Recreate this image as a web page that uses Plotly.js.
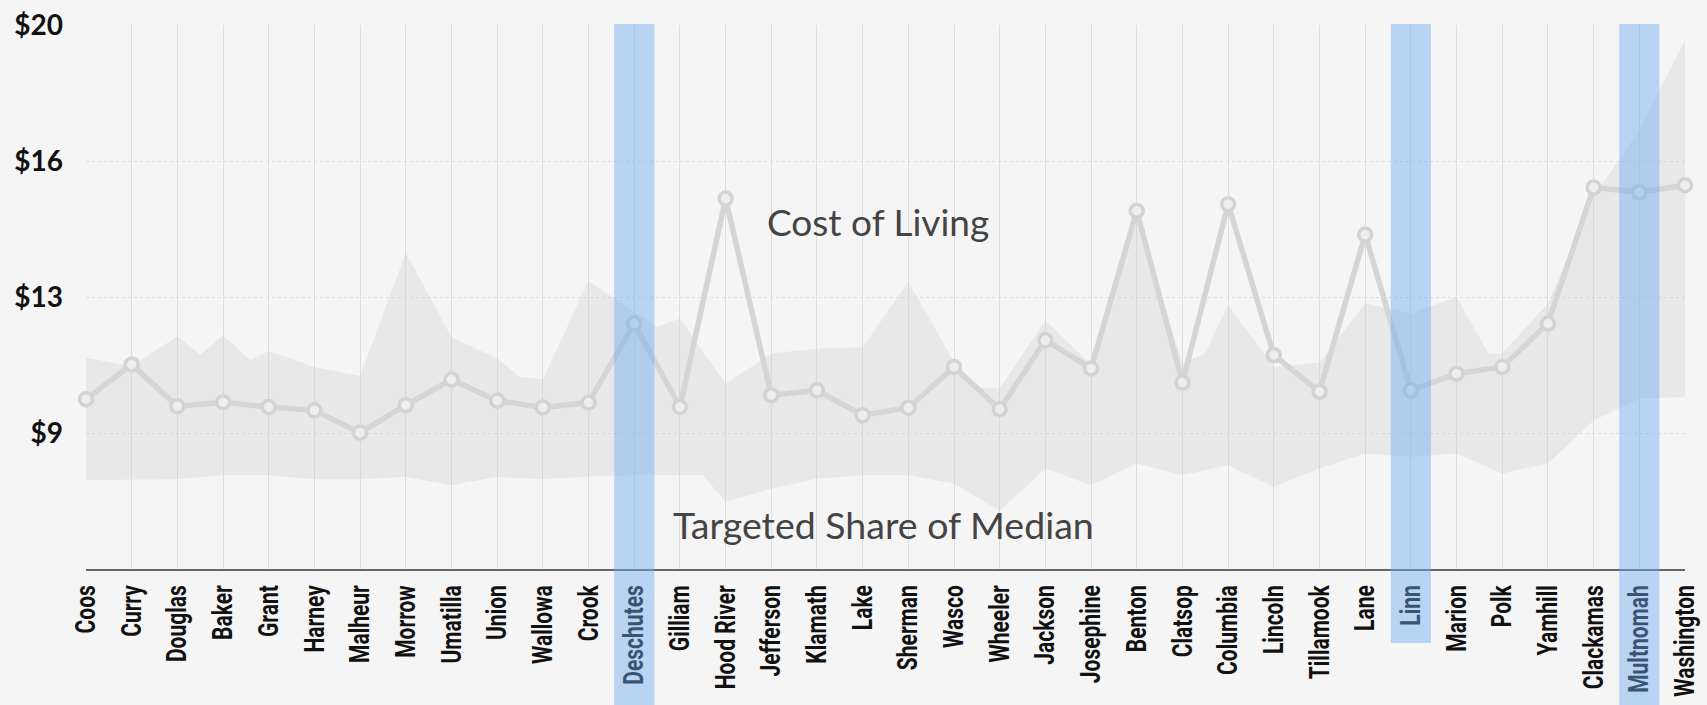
<!DOCTYPE html>
<html>
<head>
<meta charset="utf-8">
<script src="https://cdn.plot.ly/plotly-3.0.1.min.js"></script>
<style>
  html, body { margin: 0; padding: 0; background: #f5f5f5; }
  #chart { width: 1707px; height: 705px; }
</style>
</head>
<body>
<div id="chart"></div>
<script>
// ---- data ----
const counties = ["Coos","Curry","Douglas","Baker","Grant","Harney","Malheur","Morrow","Umatilla","Union","Wallowa","Crook","Deschutes","Gilliam","Hood River","Jefferson","Klamath","Lake","Sherman","Wasco","Wheeler","Jackson","Josephine","Benton","Clatsop","Columbia","Lincoln","Tillamook","Lane","Linn","Marion","Polk","Yamhill","Clackamas","Multnomah","Washington"];

const costOfLiving = [9.91,10.85,9.72,9.83,9.70,9.61,9.01,9.75,10.44,9.87,9.69,9.82,11.95,9.70,15.32,10.02,10.15,9.48,9.68,10.78,9.64,11.50,10.74,14.99,10.36,15.17,11.10,10.11,14.35,10.15,10.60,10.78,11.95,15.62,15.49,15.68];

// upper edge of shaded range (position along county axis, wage)
const rangeUpperPos = [0,1,2,2.5,3,3.6,4,5,6,7,8,9,9.5,10,11,12,12.5,13,14,15,16,17,18,19,19.5,20,21,22,23,24,24.5,25,26,27,28,29,30,30.7,31,32,33,34,35];
const rangeUpper    = [11.03,10.80,11.61,11.10,11.63,10.96,11.21,10.78,10.54,13.86,11.59,11.01,10.51,10.45,13.10,12.28,11.86,12.09,10.33,11.14,11.28,11.31,13.08,10.92,10.25,10.20,12.03,10.85,14.70,10.90,11.14,12.45,10.78,10.90,12.49,12.22,12.67,11.14,11.14,12.49,15.37,17.17,19.60];

// lower edge of shaded range
const rangeLowerPos = [0,1,2,3,4,5,6,7,8,9,10,11,12,13,13.5,14,15,16,17,18,19,20,21,22,23,24,25,26,27,28,29,30,31,32,33,34,35];
const rangeLower    = [7.73,7.73,7.75,7.86,7.86,7.75,7.75,7.82,7.59,7.82,7.75,7.83,7.86,7.86,7.86,7.15,7.50,7.77,7.86,7.86,7.64,6.90,8.04,7.59,8.18,7.86,8.13,7.55,8.04,8.45,8.36,8.45,7.91,8.18,9.34,9.93,9.97];

const yTickVals = [9, 12.6667, 16.3333, 20];
const yTickText = ["$9", "$13", "$16", "$20"];

const highlighted = ["Deschutes", "Linn", "Multnomah"];
const highlightDepth = [-0.26, -0.136, -0.26];

const annotationsText = ["Cost of Living", "Targeted Share of Median"];

// ---- chart ----
const idx = counties.map((_, i) => i);
const LABEL_CONDENSE = 0.75;

const traces = [
  {
    x: rangeLowerPos, y: rangeLower, type: 'scatter', mode: 'lines',
    line: { width: 0, color: 'rgba(0,0,0,0)' }, hoverinfo: 'skip', showlegend: false
  },
  {
    x: rangeUpperPos, y: rangeUpper, type: 'scatter', mode: 'lines',
    fill: 'tonexty', fillcolor: 'rgba(205,205,205,0.32)',
    line: { width: 0, color: 'rgba(0,0,0,0)' }, hoverinfo: 'skip', showlegend: false
  },
  {
    x: idx, y: costOfLiving, type: 'scatter', mode: 'lines+markers',
    line: { color: '#d5d5d5', width: 5.5 },
    marker: { symbol: 'circle', size: 13, color: '#eeeeee', line: { color: '#d3d3d3', width: 3.5 } },
    cliponaxis: false, showlegend: false
  }
];

const shapes = highlighted.map((name, k) => {
  const i = counties.indexOf(name);
  return {
    type: 'rect', layer: 'above', xref: 'x', yref: 'paper',
    x0: i - 0.44, x1: i + 0.44, y0: highlightDepth[k], y1: 1.002,
    fillcolor: 'rgba(110,168,238,0.44)', line: { width: 0 }
  };
});

const layout = {
  width: 1707, height: 705,
  paper_bgcolor: '#f5f5f5', plot_bgcolor: '#f5f5f5',
  margin: { l: 86, r: 22, t: 25, b: 136, pad: 0 },
  showlegend: false,
  xaxis: {
    type: 'linear', range: [0, 35],
    tickmode: 'array', tickvals: idx, ticktext: counties,
    tickangle: -90,
    tickfont: { family: 'Roboto, "DejaVu Sans", sans-serif', size: 28, color: '#111111', weight: 'bold' },
    ticks: '', ticklabelstandoff: 3,
    showgrid: true, gridcolor: '#dddddd', gridwidth: 1,
    zeroline: false,
    showline: true, linecolor: '#666666', linewidth: 2
  },
  yaxis: {
    range: [5.3333, 20],
    tickmode: 'array', tickvals: yTickVals, ticktext: yTickText,
    tickfont: { family: 'Lato, "Open Sans", sans-serif', size: 28, color: '#111111', weight: 'bold' },
    ticks: '', ticklabelstandoff: 22,
    showgrid: true, gridcolor: '#dcdcdc', gridwidth: 1, griddash: 'dot',
    zeroline: false, showline: false
  },
  shapes: shapes,
  annotations: [
    { text: annotationsText[0], xref: 'paper', yref: 'paper', x: 0.4955, y: 0.638,
      xanchor: 'center', yanchor: 'middle', showarrow: false,
      font: { family: 'Lato, sans-serif', size: 37, color: '#444444' } },
    { text: annotationsText[1], xref: 'paper', yref: 'paper', x: 0.4985, y: 0.081,
      xanchor: 'center', yanchor: 'middle', showarrow: false,
      font: { family: 'Lato, sans-serif', size: 37.5, color: '#444444' } }
  ]
};

Plotly.newPlot('chart', traces, layout, { displayModeBar: false, staticPlot: true }).then(gd => {
  // condensed look for the county labels (real text, glyphs narrowed)
  gd.querySelectorAll('.xtick text').forEach(t => {
    const len = t.getComputedTextLength();
    t.setAttribute('textLength', (len * LABEL_CONDENSE).toFixed(2));
    t.setAttribute('lengthAdjust', 'spacingAndGlyphs');
  });
});
</script>
</body>
</html>
